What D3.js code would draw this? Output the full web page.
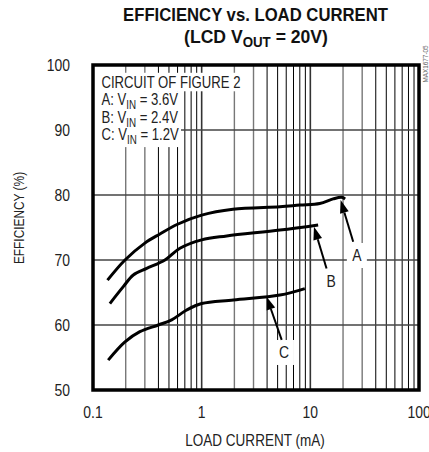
<!DOCTYPE html>
<html><head><meta charset="utf-8">
<script src="https://cdn.jsdelivr.net/npm/d3@7"></script>
<style>
html,body{margin:0;padding:0;background:#fff;}
svg{display:block;}
text{font-family:"Liberation Sans Narrow","Arial Narrow","Liberation Sans",Arial,sans-serif;fill:#222;}
</style></head>
<body>
<svg id="chart" width="429" height="452"></svg>
<script>
// ---- data ----
const xA = [0.136, 0.197, 0.30, 0.413, 0.6, 1.0, 1.94, 5.25, 8.0, 12.2, 16.2, 19.4, 20.9];
const yA = [66.9, 70.0, 72.6, 74.0, 75.5, 76.9, 77.8, 78.2, 78.46, 78.7, 79.4, 79.65, 79.4];
const xB = [0.143, 0.19, 0.235, 0.312, 0.459, 0.631, 1.0, 1.70, 5.25, 11.8];
const yB = [63.3, 65.9, 67.7, 68.7, 70.0, 71.8, 73.1, 73.7, 74.6, 75.4];
const xC = [0.138, 0.197, 0.270, 0.399, 0.53, 0.728, 1.0, 1.96, 5.25, 8.9];
const yC = [54.6, 57.4, 58.97, 60.0, 60.8, 62.3, 63.3, 63.85, 64.6, 65.6];
const xTicks = [0.1, 1, 10, 100];
const xTickLabels = ["0.1", "1", "10", "100"];
const yTicks = [50, 60, 70, 80, 90, 100];
const legendLines = [
  {lead: "CIRCUIT OF FIGURE 2", sub: "", tail: ""},
  {lead: "A: V", sub: "IN", tail: " = 3.6V"},
  {lead: "B: V", sub: "IN", tail: " = 2.4V"},
  {lead: "C: V", sub: "IN", tail: " = 1.2V"}
];
// annotation labels and arrows (data units)
const annLabels = ["A", "B", "C"];
const annLabelX = [26.8, 15.5, 5.72];
const annLabelY = [70.77, 66.9, 55.85];
const arrowTipX = [19.0, 10.8, 3.96];
const arrowTipY = [79.23, 75.1, 64.35];
const arrowTailX = [24.8, 14.1, 5.45];
const arrowTailY = [72.8, 68.7, 57.7];

// ---- layout ----
const svg = d3.select("#chart");
const L = 93, R = 419, T = 65, B = 390;
const K = 0.82; // horizontal condensing to mimic a narrow face
const x = d3.scaleLog().domain([0.1, 100]).range([L, R]);
const y = d3.scaleLinear().domain([50, 100]).range([B, T]);

function ctext(parent, px, py, k, anchor, size, rot) {
  return parent.append("text")
    .attr("transform", `translate(${px},${py})${rot ? " rotate(" + rot + ")" : ""} scale(${k},1)`)
    .attr("text-anchor", anchor).style("font-size", size + "px");
}

// title
const t1 = ctext(svg, 255.5, 21, 1, "middle", 18.5).style("font-weight", "bold").style("fill", "#111");
t1.text("EFFICIENCY vs. LOAD CURRENT");
const w1 = t1.node().getComputedTextLength();
t1.attr("transform", `translate(255.5,21) scale(${265 / w1},1)`);
const t2 = ctext(svg, 256, 43, 1, "middle", 18.5).style("font-weight", "bold").style("fill", "#111");
t2.append("tspan").text("(LCD V");
t2.append("tspan").attr("dy", 4).style("font-size", "14px").text("OUT");
t2.append("tspan").attr("dy", -4).text(" = 20V)");
const w2 = t2.node().getBBox().width;
t2.attr("transform", `translate(256,43) scale(${144 / w2},1)`);

// grid: vertical
const minor = [];
[0.1, 1, 10].forEach(d => { for (let m = 1; m <= 9; m++) minor.push({v: d * m, m}); });
const g = svg.append("g");
g.selectAll("line.v").data(minor.filter(d => d.v > 0.1)).join("line")
  .attr("x1", d => x(d.v)).attr("x2", d => x(d.v)).attr("y1", T).attr("y2", B)
  .attr("stroke", d => d.m === 1 ? "#333" : (d.m <= 3 ? "#777" : "#000"))
  .attr("stroke-width", d => d.m === 1 ? 1.6 : (d.m <= 3 ? 1.4 : 1));
// horizontal
g.selectAll("line.h").data(yTicks.filter(d => d > 50 && d < 100)).join("line")
  .attr("x1", L).attr("x2", R).attr("y1", d => y(d)).attr("y2", d => y(d))
  .attr("stroke", "#444").attr("stroke-width", 1.3);

// legend
const lg = svg.append("g");
const lineH = 17.3, base0 = 88;
legendLines.forEach((ln, i) => {
  const by0 = base0 + i * lineH;
  const t = ctext(lg, 101.5, by0, K, "start", 16);
  t.append("tspan").text(ln.lead);
  if (ln.sub) {
    t.append("tspan").attr("dy", 4).style("font-size", "12px").text(ln.sub);
    t.append("tspan").attr("dy", -4).text(ln.tail);
  }
  const bb = t.node().getBBox();
  const right = 101.5 + (bb.x + bb.width) * K + 2;
  lg.insert("rect", "text").attr("x", L).attr("y", by0 + bb.y - (i === 0 ? 1 : 0))
    .attr("width", right - L).attr("height", bb.height + 1).attr("fill", "#fff");
});

// curves
const line = d3.line().x(d => x(d[0])).y(d => y(d[1])).curve(d3.curveCatmullRom.alpha(0.5));
[[xA, yA], [xB, yB], [xC, yC]].forEach(([xs, ys]) => {
  svg.append("path").datum(xs.map((v, i) => [v, ys[i]])).attr("d", line)
    .attr("fill", "none").attr("stroke", "#000").attr("stroke-width", 3);
});

// annotations
annLabels.forEach((lab, i) => {
  const lx = x(annLabelX[i]), ly = y(annLabelY[i]);
  svg.append("rect").attr("x", lx - 10).attr("y", ly - 12).attr("width", 20).attr("height", 25).attr("fill", "#fff");
  ctext(svg, lx, ly + 6.5, K, "middle", 17).text(lab);
  const tx = x(arrowTipX[i]), ty = y(arrowTipY[i]);
  const sx = x(arrowTailX[i]), sy = y(arrowTailY[i]);
  const ang = Math.atan2(ty - sy, tx - sx);
  const hl = 13, hw = 4.5;
  const bx = tx - hl * Math.cos(ang), by = ty - hl * Math.sin(ang);
  svg.append("line").attr("x1", sx).attr("y1", sy).attr("x2", bx).attr("y2", by)
    .attr("stroke", "#000").attr("stroke-width", 2);
  const px = -Math.sin(ang) * hw, py = Math.cos(ang) * hw;
  svg.append("path").attr("d", `M${tx},${ty}L${bx + px},${by + py}L${bx - px},${by - py}Z`).attr("fill", "#000");
});

// frame
svg.append("rect").attr("x", L).attr("y", T).attr("width", R - L).attr("height", B - T)
  .attr("fill", "none").attr("stroke", "#000").attr("stroke-width", 3.5);

// tick labels
yTicks.forEach(v => { ctext(svg, 70, y(v) + 6, K, "end", 17).text(v); });
xTicks.forEach((v, i) => { ctext(svg, x(v), 418, K, "middle", 17).text(xTickLabels[i]); });

// axis titles
ctext(svg, 255, 446, K, "middle", 16.5).text("LOAD CURRENT (mA)");
ctext(svg, 24, 218, K, "middle", 14.5, -90).text("EFFICIENCY (%)");

// watermark
ctext(svg, 428, 64, 0.85, "middle", 7.5, -90).style("fill", "#666").text("MAX1677-05");
</script>
</body></html>
